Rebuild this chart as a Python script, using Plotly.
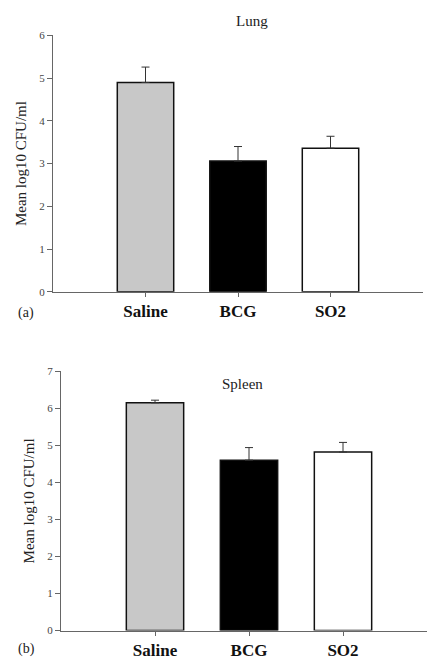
import plotly.graph_objects as go

groups = ["Saline", "BCG", "SO2"]
bar_colors = ["#c8c8c8", "#000000", "#ffffff"]

lung_mean = [4.9, 3.06, 3.36]
lung_err = [0.36, 0.34, 0.28]

spleen_mean = [6.15, 4.6, 4.82]
spleen_err = [0.07, 0.34, 0.26]

W, H = 427, 666
pos = list(range(len(groups)))

fig = go.Figure()

def add_panel(means, errs, xa, ya):
    fig.add_trace(go.Bar(
        x=pos, y=means, width=0.61,
        marker=dict(color=bar_colors, line=dict(color="#111111", width=1.5)),
        error_y=dict(type="data", array=errs, arrayminus=[0]*len(errs), symmetric=False,
                     color="#333333", thickness=1, width=4),
        xaxis=xa, yaxis=ya, showlegend=False, hoverinfo="skip"))

add_panel(lung_mean, lung_err, "x", "y")
add_panel(spleen_mean, spleen_err, "x2", "y2")

font_serif = "Liberation Serif, Times New Roman, serif"
axis_col = "#666666"

def px_x(v):
    return v / W

def px_y(v):
    return (H - v) / H

def xaxis_cfg(domain, rng, anchor):
    return dict(domain=domain, range=rng, anchor=anchor, tickmode="array", tickvals=pos,
                ticktext=["<b>%s</b>" % g for g in groups], showline=True, linecolor=axis_col,
                linewidth=1, ticks="outside", ticklen=4, tickcolor=axis_col, showgrid=False,
                zeroline=False, tickfont=dict(family=font_serif, size=17, color="#111111"))

def yaxis_cfg(domain, rng, anchor):
    return dict(domain=domain, range=rng, anchor=anchor, dtick=1, showline=True,
                linecolor=axis_col, linewidth=1, ticks="outside", ticklen=5, tickcolor=axis_col,
                showgrid=False, zeroline=False,
                tickfont=dict(family=font_serif, size=11, color="#444444"),
                title=dict(text="Mean log10 CFU/ml", font=dict(family=font_serif, size=15, color="#222222"),
                           standoff=9))

def note(text, x, y, size, xanchor="center"):
    return dict(text=text, x=px_x(x), y=px_y(y), xref="paper", yref="paper", showarrow=False,
                xanchor=xanchor, yanchor="middle",
                font=dict(family=font_serif, size=size, color="#222222"))

fig.update_layout(
    width=W, height=H, margin=dict(l=0, r=0, t=0, b=0),
    paper_bgcolor="white", plot_bgcolor="white",
    xaxis=xaxis_cfg([px_x(53), px_x(423)], [-1, 3], "y"),
    yaxis=yaxis_cfg([px_y(291), px_y(30)], [0, 6], "x"),
    xaxis2=xaxis_cfg([px_x(61), px_x(427)], [-1, -1 + 366/94], "y2"),
    yaxis2=yaxis_cfg([px_y(636), px_y(372)], [0, 7], "x2"),
    annotations=[
        note("Lung", 252, 15, 15),
        note("Spleen", 243, 385, 15),
        note("(a)", 16, 313, 14, "left"),
        note("(b)", 16, 655, 14, "left"),
    ],
)

fig.write_html("out.html", config={"displayModeBar": False},
               post_script="document.body.style.margin='0';")
